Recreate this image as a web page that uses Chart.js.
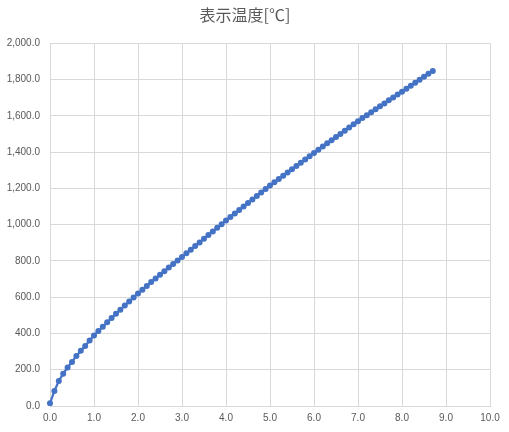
<!DOCTYPE html>
<html>
<head>
<meta charset="utf-8">
<script src="https://cdn.jsdelivr.net/npm/chart.js@4"></script>
<style>
  body { margin: 0; background: #fff; }
  #wrap { width: 509px; height: 432px; position: relative; }
</style>
</head>
<body>
<div id="wrap"><canvas id="chart"></canvas></div>
<script>
// 時間 (x) と表示温度 (y)
const xValues = [
  0.0, 0.1, 0.2, 0.3, 0.4, 0.5, 0.6, 0.7, 0.8, 0.9,
  1.0, 1.1, 1.2, 1.3, 1.4, 1.5, 1.6, 1.7, 1.8, 1.9,
  2.0, 2.1, 2.2, 2.3, 2.4, 2.5, 2.6, 2.7, 2.8, 2.9,
  3.0, 3.1, 3.2, 3.3, 3.4, 3.5, 3.6, 3.7, 3.8, 3.9,
  4.0, 4.1, 4.2, 4.3, 4.4, 4.5, 4.6, 4.7, 4.8, 4.9,
  5.0, 5.1, 5.2, 5.3, 5.4, 5.5, 5.6, 5.7, 5.8, 5.9,
  6.0, 6.1, 6.2, 6.3, 6.4, 6.5, 6.6, 6.7, 6.8, 6.9,
  7.0, 7.1, 7.2, 7.3, 7.4, 7.5, 7.6, 7.7, 7.8, 7.9,
  8.0, 8.1, 8.2, 8.3, 8.4, 8.5, 8.6, 8.7
];
const tempValues = [
  15, 83, 138, 178, 212, 243, 276, 304, 331, 361,
  388, 413, 437, 461, 485, 508, 531, 554, 576, 598,
  620, 641, 662, 683, 703, 723, 743, 763, 783, 802,
  822, 842, 862, 882, 902, 922, 942, 962, 982, 1002,
  1022, 1042, 1061, 1081, 1100, 1119, 1138, 1158, 1177, 1196,
  1215, 1233, 1251, 1269, 1287, 1305, 1323, 1341, 1359, 1377,
  1395, 1413, 1430, 1448, 1465, 1483, 1500, 1518, 1535, 1553,
  1570, 1587, 1603, 1620, 1636, 1652, 1668, 1685, 1701, 1717,
  1733, 1749, 1766, 1782, 1798, 1815, 1831, 1847
];
const chartTitle = '表示温度[℃]';

const points = xValues.map((x, i) => ({ x: x, y: tempValues[i] }));

const gray = '#595959';
const gridColor = '#d9d9d9';
const tickFont = { family: 'Liberation Sans, Arial, sans-serif', size: 10 };

let ctx = document.getElementById('chart').getContext('2d');
let chart = new Chart(ctx, {
    type: 'scatter',
    data: {
        datasets: [{
            data: points,
            showLine: true,
            clip: false,
            borderColor: '#4472C4',
            backgroundColor: '#4472C4',
            borderWidth: 2.25,
            pointRadius: 3,
            pointBorderWidth: 0,
            pointHoverRadius: 3
        }]
    },
    options: {
        responsive: true,
        maintainAspectRatio: false,
        animation: false,
        layout: { padding: { left: 0, right: 19, top: 0, bottom: 0 } },
        plugins: {
            legend: { display: false },
            tooltip: { enabled: false },
            title: {
                display: true,
                text: chartTitle,
                color: gray,
                font: { family: 'Noto Sans CJK JP', size: 16, weight: 'normal' },
                padding: { top: 5, bottom: 19 }
            }
        },
        scales: {
            x: {
                type: 'linear',
                min: 0,
                max: 10,
                ticks: {
                    stepSize: 1,
                    color: gray,
                    font: tickFont,
                    padding: 6,
                    maxRotation: 0,
                    callback: v => v.toFixed(1)
                },
                grid: { color: gridColor, drawTicks: false },
                border: { color: gridColor },
                afterFit: s => { s.height = 26; }
            },
            y: {
                min: 0,
                max: 2000,
                ticks: {
                    stepSize: 200,
                    color: gray,
                    font: tickFont,
                    padding: 10,
                    callback: v => v.toLocaleString('en-US', { minimumFractionDigits: 1, maximumFractionDigits: 1 })
                },
                grid: { color: gridColor, drawTicks: false },
                border: { color: gridColor },
                afterFit: s => { s.width = 50; }
            }
        }
    }
});
</script>
</body>
</html>
